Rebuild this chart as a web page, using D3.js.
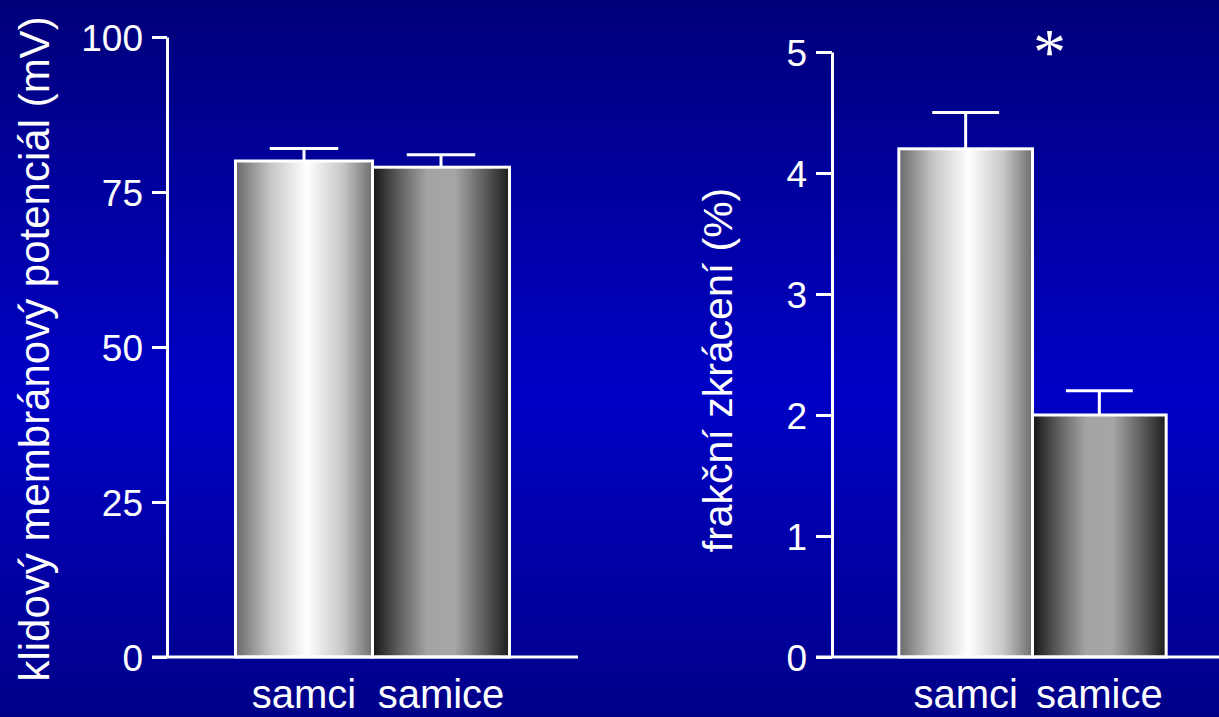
<!DOCTYPE html>
<html>
<head>
<meta charset="utf-8">
<script src="https://cdn.jsdelivr.net/npm/d3@7"></script>
<style>
  html, body { margin: 0; padding: 0; background: #0000a0; }
  svg { display: block; }
  text { font-family: "Liberation Sans", Arial, sans-serif; fill: #fff; }
</style>
</head>
<body>
<svg id="chart" width="1219" height="717"></svg>
<script>
// Group names shared by both panels
const categories = ["samci", "samice"];

// Resting membrane potential (mV): means and upper error
const potentialMean = [80, 79];
const potentialErr = [2, 2];
const potentialTicks = [0, 25, 50, 75, 100];

// Fractional shortening (%): means and upper error
const shorteningMean = [4.2, 2.0];
const shorteningErr = [0.3, 0.2];
const shorteningTicks = [0, 1, 2, 3, 4, 5];

const W = 1219, H = 717;
const svg = d3.select("#chart");
const defs = svg.append("defs");

// Slide background: vertical blue gradient
const bg = defs.append("linearGradient").attr("id", "bg")
  .attr("x1", 0).attr("y1", 0).attr("x2", 0).attr("y2", 1);
[[0, "#00007a"], [0.55, "#0000c6"], [1, "#000088"]].forEach(([o, c]) =>
  bg.append("stop").attr("offset", o).attr("stop-color", c));
svg.append("rect").attr("width", W).attr("height", H).attr("fill", "url(#bg)");

// Horizontal shading for the two bar types
const shades = {
  samci: [[0, "#686868"], [0.25, "#c4c4c4"], [0.52, "#ffffff"], [0.78, "#c8c8c8"], [1, "#6e6e6e"]],
  samice: [[0, "#141414"], [0.18, "#5a5a5a"], [0.4, "#a4a4a4"], [0.6, "#a6a6a6"], [0.82, "#5c5c5c"], [1, "#1c1c1c"]]
};
Object.entries(shades).forEach(([k, stops]) => {
  const g = defs.append("linearGradient").attr("id", "g-" + k)
    .attr("x1", 0).attr("y1", 0).attr("x2", 1).attr("y2", 0);
  stops.forEach(([o, c]) => g.append("stop").attr("offset", o).attr("stop-color", c));
});

function panel(opts) {
  const { xRange, yDomain, yRange, ticks, means, errs, lineEnd, tickLen, label, labelX, labelY, labelSize } = opts;
  const g = svg.append("g");
  const x = d3.scaleBand().domain(categories).range(xRange).paddingInner(0).paddingOuter(0.5);
  const y = d3.scaleLinear().domain(yDomain).range(yRange);

  // bars
  g.selectAll("rect.bar").data(categories).join("rect")
    .attr("class", "bar")
    .attr("x", d => x(d))
    .attr("width", x.bandwidth())
    .attr("y", (d, i) => y(means[i]))
    .attr("height", (d, i) => y(0) - y(means[i]))
    .attr("fill", d => "url(#g-" + d + ")")
    .attr("stroke", "#fff").attr("stroke-width", 3);

  // error bars (upper only)
  const cap = x.bandwidth() / 2;
  categories.forEach((d, i) => {
    const cx = x(d) + x.bandwidth() / 2;
    const top = y(means[i] + errs[i]);
    g.append("line").attr("x1", cx).attr("x2", cx)
      .attr("y1", y(means[i])).attr("y2", top)
      .attr("stroke", "#fff").attr("stroke-width", 3);
    g.append("line").attr("x1", cx - cap / 2).attr("x2", cx + cap / 2)
      .attr("y1", top).attr("y2", top)
      .attr("stroke", "#fff").attr("stroke-width", 3);
  });

  // y axis
  const ax = g.append("g").attr("transform", `translate(${xRange[0]},0)`)
    .call(d3.axisLeft(y).tickValues(ticks).tickFormat(d3.format("d"))
      .tickSize(tickLen).tickPadding(9).tickSizeOuter(0));
  ax.select(".domain").attr("stroke", "#fff").attr("stroke-width", 3);
  ax.selectAll(".tick line").attr("stroke", "#fff").attr("stroke-width", 3);
  ax.selectAll(".tick text").attr("fill", "#fff")
    .style("font-size", "37px").attr("dy", "0.36em");

  // baseline
  g.append("line").attr("x1", xRange[0] - tickLen).attr("x2", lineEnd)
    .attr("y1", y(0)).attr("y2", y(0))
    .attr("stroke", "#fff").attr("stroke-width", 3);

  // category labels
  g.selectAll("text.cat").data(categories).join("text")
    .attr("class", "cat")
    .attr("x", d => x(d) + x.bandwidth() / 2)
    .attr("y", 708)
    .attr("text-anchor", "middle")
    .style("font-size", "40px")
    .text(d => d);

  // y axis title
  g.append("text")
    .attr("transform", `translate(${labelX},${labelY}) rotate(-90)`)
    .attr("text-anchor", "middle")
    .attr("dy", "0.35em")
    .style("font-size", labelSize + "px")
    .text(label);

  return { x, y, g };
}

panel({
  xRange: [167, 578], yDomain: [0, 100], yRange: [657, 37],
  ticks: potentialTicks, means: potentialMean, errs: potentialErr,
  lineEnd: 578, tickLen: 15,
  label: "klidový membránový potenciál (mV)", labelX: 34, labelY: 349, labelSize: 42
});

const right = panel({
  xRange: [832, 1233], yDomain: [0, 5], yRange: [657, 52],
  ticks: shorteningTicks, means: shorteningMean, errs: shorteningErr,
  lineEnd: W, tickLen: 16,
  label: "frakční zkrácení (%)", labelX: 718, labelY: 370, labelSize: 41
});

// significance mark
right.g.append("text")
  .attr("x", right.x("samice") + 17)
  .attr("y", 74)
  .attr("text-anchor", "middle")
  .style("font-family", "'Liberation Serif', 'Times New Roman', serif")
  .style("font-size", "66px")
  .text("*");
</script>
</body>
</html>
